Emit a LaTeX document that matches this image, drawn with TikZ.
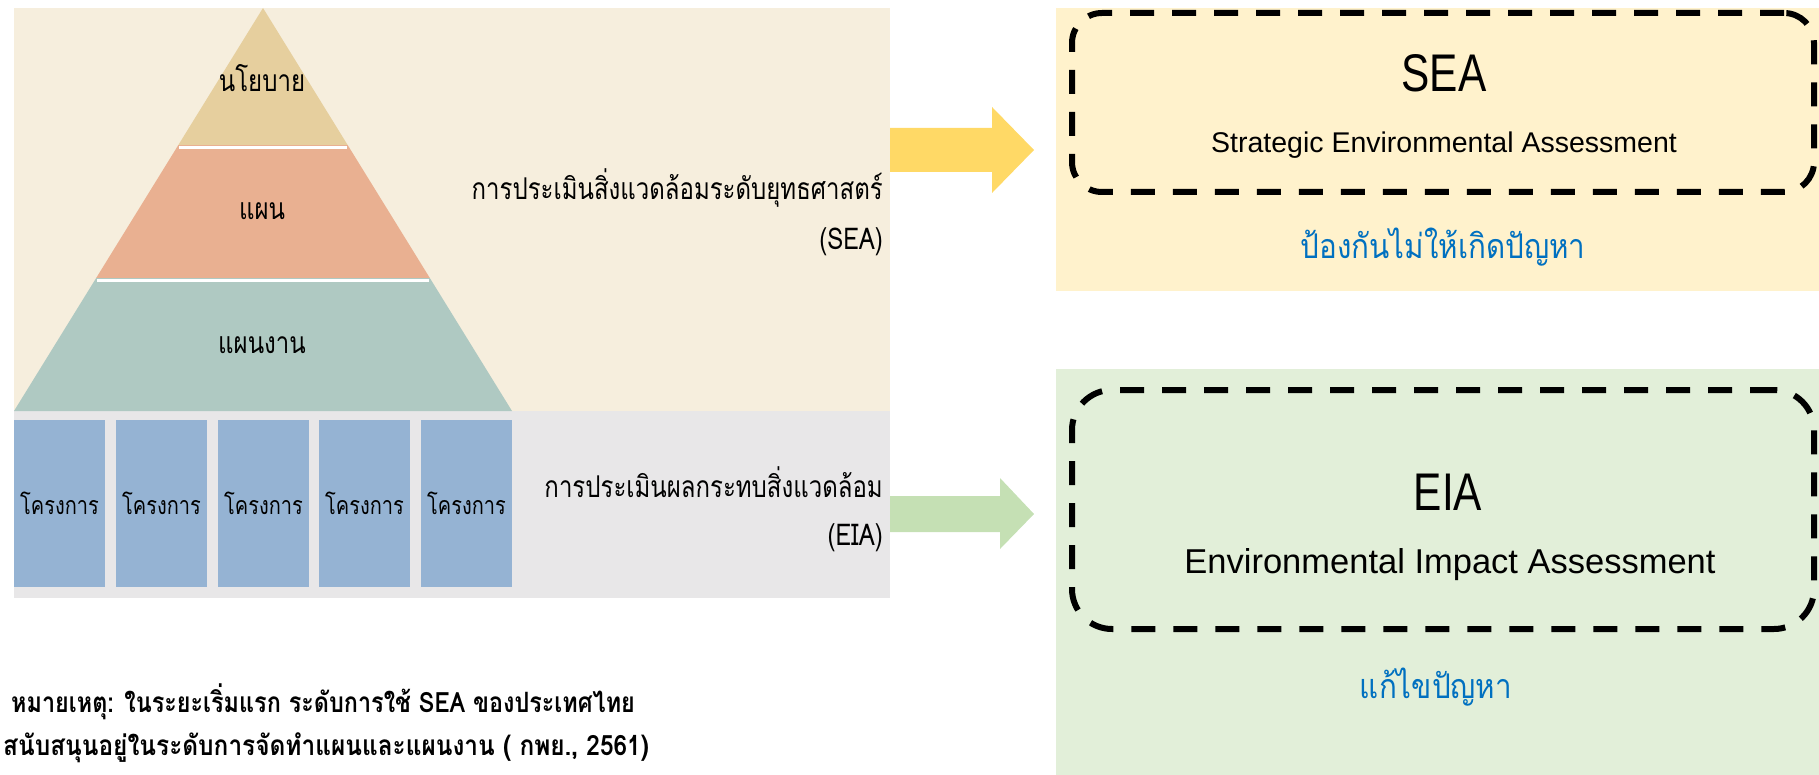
\documentclass[tikz,border=0pt]{standalone}
\usepackage{fontspec}
\usepackage{graphicx}
\newfontfamily\thai[Script=Thai]{Loma}
\newfontfamily\lat{Liberation Sans}
\usetikzlibrary{calc}
\newcommand\sqz[2]{\scalebox{#1}[1]{#2}}
\definecolor{seabg}{HTML}{F6EEDD}
\definecolor{eiabg}{HTML}{E8E7E8}
\definecolor{layA}{HTML}{E6CF9E}
\definecolor{layB}{HTML}{E9B091}
\definecolor{layC}{HTML}{AFC9C2}
\definecolor{proj}{HTML}{95B3D3}
\definecolor{seapanel}{HTML}{FFF2CC}
\definecolor{eiapanel}{HTML}{E2EFD9}
\definecolor{arrY}{HTML}{FFD966}
\definecolor{arrG}{HTML}{C5E0B4}
\definecolor{bluetxt}{HTML}{0070C0}
\tikzset{
  panel/.style={draw=none, inner sep=0pt, outer sep=0pt, anchor=north west},
  projbox/.style={panel, fill=proj, minimum width=91pt, minimum height=167pt},
  dbox/.style={panel, draw=black, line width=6pt, dash pattern=on 24pt off 18pt, rounded corners=30pt},
  thlabel/.style={inner sep=0pt, font=\thai\fontsize{30}{34}\selectfont},
  projlabel/.style={inner sep=0pt, font=\thai\fontsize{25}{28}\selectfont},
  bluelabel/.style={inner sep=0pt, text=bluetxt, font=\thai\fontsize{34}{38}\selectfont},
  note/.style={inner sep=0pt, anchor=west, font=\thai\bfseries\fontsize{28}{32}\selectfont},
  big/.style={inner sep=0pt, font=\lat\fontsize{53}{56}\selectfont},
}
\begin{document}
\begin{tikzpicture}[x=1pt,y=-1pt]
\useasboundingbox (0,0) rectangle (1819,775);
% left panels
\node[panel, fill=seabg, minimum width=876pt, minimum height=403pt] (strat) at (14,8) {};
\node[panel, fill=eiabg, minimum width=876pt, minimum height=187pt] (proj) at (14,411) {};
% pyramid
\coordinate (apex) at (263,8);
\coordinate (bl) at (14,411);
\coordinate (br) at (512,411);
\fill[layA] (apex) -- ($(apex)!0.34!(bl)$) -- ($(apex)!0.34!(br)$) -- cycle;
\fill[layB] ($(apex)!0.34!(bl)$) -- ($(apex)!0.67!(bl)$) -- ($(apex)!0.67!(br)$) -- ($(apex)!0.34!(br)$) -- cycle;
\fill[layC] ($(apex)!0.67!(bl)$) -- (bl) -- (br) -- ($(apex)!0.67!(br)$) -- cycle;
\draw[white, line width=3pt] ($(apex)!0.345!(bl)+(2,0)$) -- ($(apex)!0.345!(br)+(-2,0)$);
\draw[white, line width=3pt] ($(apex)!0.675!(bl)+(2,0)$) -- ($(apex)!0.675!(br)+(-2,0)$);
\node[thlabel] (policy) at (262,78) {\sqz{0.8}{นโยบาย}};
\node[thlabel] (plan) at (262,211) {\sqz{0.8}{แผน}};
\node[thlabel] (program) at (262,345) {\sqz{0.8}{แผนงาน}};
% project boxes
\foreach \i/\x in {1/14,2/116,3/218,4/319,5/421}{
  \node[projbox] (p\i) at (\x,420) {};
  \node[projlabel] at (p\i.center) {\sqz{0.8}{โครงการ}};
}
% left texts
\node[thlabel, anchor=east] (seath) at (883,188) {\sqz{0.8}{การประเมินสิ่งแวดล้อมระดับยุทธศาสตร์}};
\node[thlabel, anchor=east] (seaab) at (883,242) {\sqz{0.8}{(SEA)}};
\node[thlabel, anchor=east] (eiath) at (883,482) {\sqz{0.8}{การประเมินผลกระทบสิ่งแวดล้อม}};
\node[thlabel, anchor=east] (eiaab) at (883,538) {\sqz{0.8}{(EIA)}};
% right panels
\node[panel, fill=seapanel, minimum width=763pt, minimum height=283pt] (seap) at (1056,8) {};
\node[panel, fill=eiapanel, minimum width=763pt, minimum height=406pt] (eiap) at (1056,369) {};
\node[dbox, minimum width=742pt, minimum height=179pt] (seabox) at (1072,13) {};
\node[dbox, rounded corners=40pt, minimum width=742pt, minimum height=239pt] (eiabox) at (1072,390) {};
\node[big] (seat) at (1444,73) {\sqz{0.8}{SEA}};
\node[inner sep=0pt, font=\lat\fontsize{28.5}{32}\selectfont] (seasub) at (1444,145) {Strategic Environmental Assessment};
\node[bluelabel] (seablue) at (1443,247) {\sqz{0.87}{ป้องกันไม่ให้เกิดปัญหา}};
\node[big] (eiat) at (1448,492) {\sqz{0.8}{EIA}};
\node[inner sep=0pt, font=\lat\fontsize{34.5}{38}\selectfont] (eiasub) at (1450,565) {Environmental Impact Assessment};
\node[bluelabel] (eiablue) at (1436,687) {\sqz{0.87}{แก้ไขปัญหา}};
% arrows
\fill[arrY] (strat.east |- 0,128) -- (992,128) -- (992,107) -- (1034,150) -- (992,193) -- (992,172) -- (strat.east |- 0,172) -- cycle;
\fill[arrG] (proj.east |- 0,496) -- (1000,496) -- (1000,478) -- (1034,514) -- (1000,549) -- (1000,532) -- (proj.east |- 0,532) -- cycle;
% note
\node[note] (n1) at (11,702) {\sqz{0.835}{หมายเหตุ: ในระยะเริ่มแรก ระดับการใช้ SEA ของประเทศไทย}};
\node[note] (n2) at (3,748) {\sqz{0.872}{สนับสนุนอยู่ในระดับการจัดทำแผนและแผนงาน ( กพย., 2561)}};
\end{tikzpicture}
\end{document}
